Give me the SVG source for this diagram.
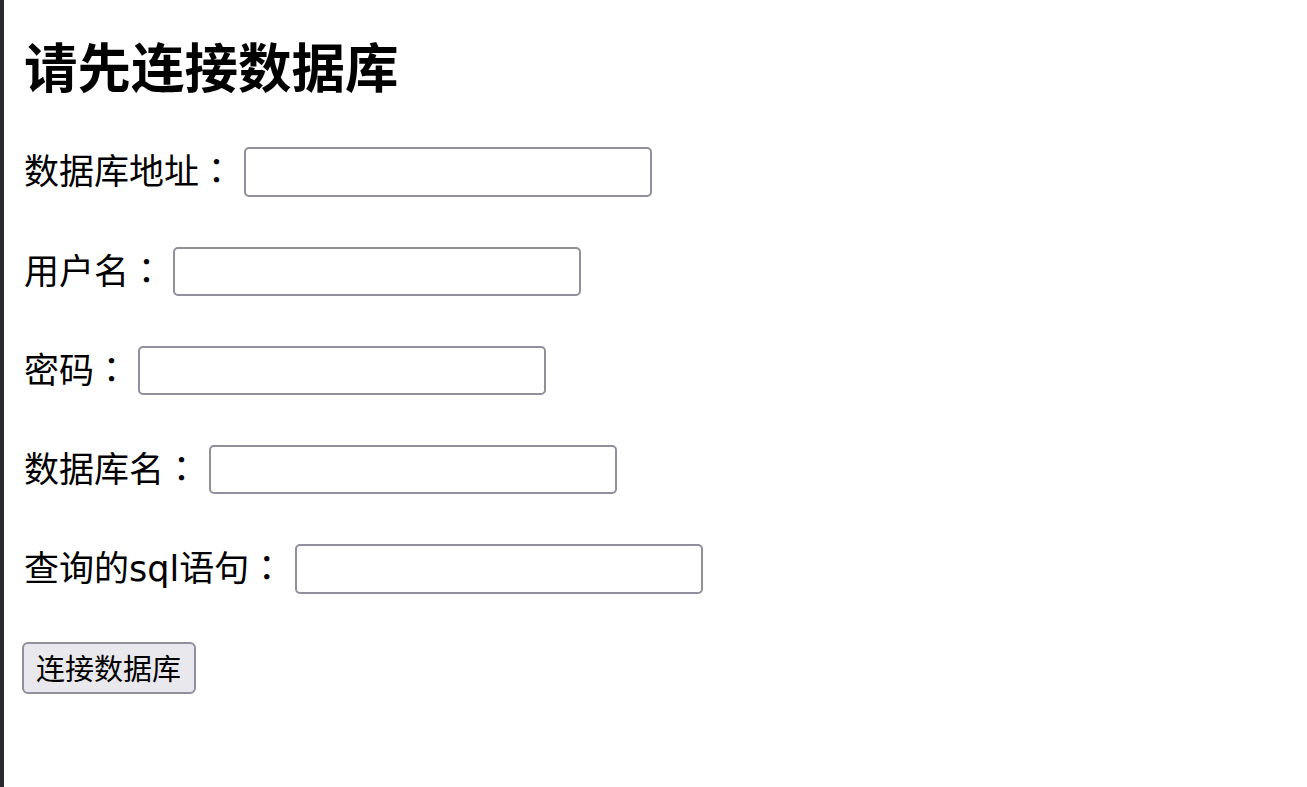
<svg xmlns="http://www.w3.org/2000/svg" width="1307" height="787" viewBox="0 0 1307 787">
<style>
text{font-family:"DejaVu Sans","Noto Sans CJK SC",sans-serif;fill:#000}
.c{font-family:"Noto Sans CJK JP","Noto Sans CJK TC",sans-serif}
.h{font-family:"Noto Sans CJK SC",sans-serif;font-size:53.5px;font-weight:bold}
.l{font-size:35px}
.b{font-size:29px}
.in{fill:#fff;stroke:#8f8f9d;stroke-width:2}
.btn{fill:#e9e9ed;stroke:#8f8f9d;stroke-width:2}
</style>
<rect x="0" y="0" width="1307" height="787" fill="#fff"/>
<rect x="0" y="0" width="4" height="787" fill="#2b2a33"/>
<g id="title"><text class="h" x="24" y="88">请先连接数据库</text></g>
<g id="row-host">
<text class="l" x="24" y="184">数据库地址<tspan class="c">：</tspan></text>
<rect class="in" x="245" y="148" width="406" height="48" rx="4"/>
</g>
<g id="row-user">
<text class="l" x="24" y="284">用户名<tspan class="c">：</tspan></text>
<rect class="in" x="174" y="248" width="406" height="47" rx="4"/>
</g>
<g id="row-pass">
<text class="l" x="24" y="383">密码<tspan class="c">：</tspan></text>
<rect class="in" x="139" y="347" width="406" height="47" rx="4"/>
</g>
<g id="row-db">
<text class="l" x="24" y="482">数据库名<tspan class="c">：</tspan></text>
<rect class="in" x="210" y="446" width="406" height="47" rx="4"/>
</g>
<g id="row-sql">
<text class="l" x="24" y="581">查询的sql语句<tspan class="c">：</tspan></text>
<rect class="in" x="296" y="545" width="406" height="48" rx="4"/>
</g>
<g id="button">
<rect class="btn" x="23" y="643" width="172" height="50" rx="5"/>
<text class="b" x="36" y="680">连接数据库</text>
</g>
<g id="connectors"/>
</svg>
